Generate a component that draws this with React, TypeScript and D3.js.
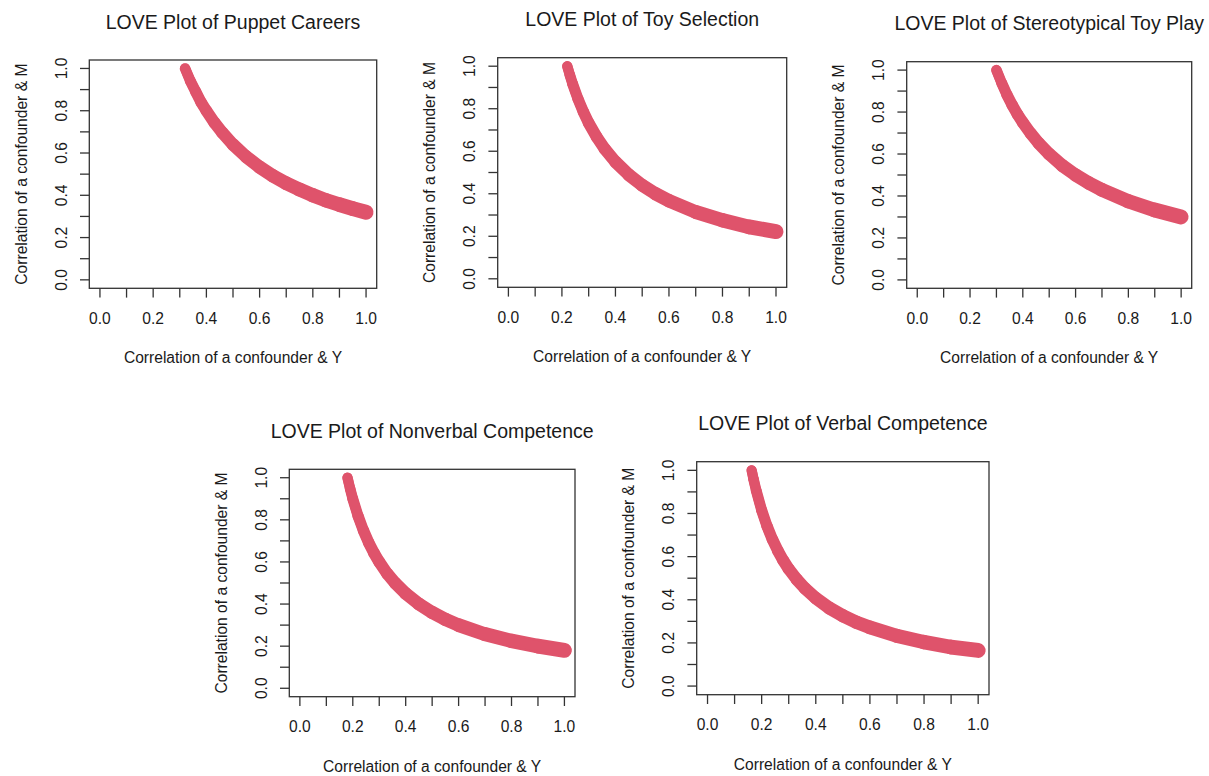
import React from "react";
import * as d3 from "d3";

// ---- Data ----
const titles = [
  "LOVE Plot of Puppet Careers",
  "LOVE Plot of Toy Selection",
  "LOVE Plot of Stereotypical Toy Play",
  "LOVE Plot of Nonverbal Competence",
  "LOVE Plot of Verbal Competence",
];

const puppetX = [0.32, 0.34, 0.36, 0.38, 0.40, 0.43, 0.46, 0.50, 0.55, 0.60, 0.65, 0.70, 0.75, 0.80, 0.85, 0.90, 0.95, 1.00];
const puppetY = [1.00, 0.94, 0.89, 0.84, 0.80, 0.744, 0.696, 0.64, 0.582, 0.533, 0.492, 0.457, 0.427, 0.40, 0.376, 0.356, 0.337, 0.32];

const toyX = [0.22, 0.23, 0.24, 0.26, 0.28, 0.30, 0.33, 0.36, 0.40, 0.45, 0.50, 0.55, 0.60, 0.70, 0.80, 0.90, 1.00];
const toyY = [1.00, 0.957, 0.917, 0.846, 0.786, 0.733, 0.667, 0.611, 0.55, 0.489, 0.44, 0.40, 0.367, 0.314, 0.275, 0.244, 0.222];

const stereoX = [0.30, 0.32, 0.34, 0.36, 0.38, 0.40, 0.43, 0.46, 0.50, 0.55, 0.60, 0.65, 0.70, 0.80, 0.90, 1.00];
const stereoY = [1.00, 0.938, 0.882, 0.833, 0.789, 0.75, 0.698, 0.652, 0.60, 0.545, 0.50, 0.462, 0.429, 0.375, 0.333, 0.30];

const nonverbalX = [0.18, 0.19, 0.20, 0.22, 0.24, 0.26, 0.28, 0.30, 0.33, 0.36, 0.40, 0.45, 0.50, 0.55, 0.60, 0.70, 0.80, 0.90, 1.00];
const nonverbalY = [1.00, 0.947, 0.90, 0.818, 0.75, 0.692, 0.643, 0.60, 0.545, 0.50, 0.45, 0.40, 0.36, 0.327, 0.30, 0.257, 0.225, 0.20, 0.18];

const verbalX = [0.163, 0.17, 0.18, 0.20, 0.22, 0.24, 0.26, 0.28, 0.30, 0.33, 0.36, 0.40, 0.45, 0.50, 0.55, 0.60, 0.70, 0.80, 0.90, 1.00];
const verbalY = [1.00, 0.959, 0.906, 0.815, 0.741, 0.679, 0.627, 0.582, 0.543, 0.494, 0.453, 0.408, 0.362, 0.326, 0.296, 0.272, 0.233, 0.204, 0.181, 0.165];

const tickValues = [0, 0.1, 0.2, 0.3, 0.4, 0.5, 0.6, 0.7, 0.8, 0.9, 1.0];
const tickLabels = ["0.0", "", "0.2", "", "0.4", "", "0.6", "", "0.8", "", "1.0"];

const xTitle = "Correlation of a confounder & Y";
const yTitle = "Correlation of a confounder & M";

// ---- Layout (plot boxes in pixels) ----
const boxes = [
  { l: 89.3, r: 376.7, t: 60, b: 288.3 },
  { l: 497.7, r: 786.7, t: 57.7, b: 287.3 },
  { l: 906.7, r: 1191.7, t: 61.7, b: 288.3 },
  { l: 289.3, r: 575, t: 469.3, b: 696.7 },
  { l: 696.7, r: 989, t: 461.7, b: 694.7 },
];

const seriesX = [puppetX, toyX, stereoX, nonverbalX, verbalX];
const seriesY = [puppetY, toyY, stereoY, nonverbalY, verbalY];

const FONT = "'Liberation Sans', Arial, Helvetica, sans-serif";
const INK = "#1a1a1a";
const POINT = "#DF536B";

function Panel({ i }: { i: number }) {
  const box = boxes[i];
  const x = d3.scaleLinear().domain([-0.04, 1.04]).range([box.l, box.r]);
  const y = d3.scaleLinear().domain([-0.04, 1.04]).range([box.b, box.t]);
  const xs = seriesX[i];
  const ys = seriesY[i];
  const x0 = xs[0];
  const cx = (box.l + box.r) / 2;
  const cy = (box.t + box.b) / 2;
  const tl = 9.3;

  const segs = [];
  for (let k = 0; k < xs.length - 1; k++) {
    const tMid = ((xs[k] + xs[k + 1]) / 2 - x0) / (1 - x0);
    const w = 10 + 5 * Math.sqrt(tMid);
    segs.push(
      <line
        key={k}
        x1={x(xs[k])}
        y1={y(ys[k])}
        x2={x(xs[k + 1])}
        y2={y(ys[k + 1])}
        stroke={POINT}
        strokeWidth={w}
        strokeLinecap="round"
      />
    );
  }
  const pathD = d3
    .line<number>()
    .x((_, k) => x(xs[k]))
    .y((_, k) => y(ys[k]))
    .curve(d3.curveMonotoneX)(xs) as string;

  return (
    <g>
      <text x={cx} y={box.t - 38.5} textAnchor="middle" dominantBaseline="central" fontSize={19.5} fill={INK} fontFamily={FONT}>
        {titles[i]}
      </text>
      <g>{segs}</g>
      <path d={pathD} fill="none" stroke={POINT} strokeWidth={10} strokeLinecap="round" />
      <rect x={box.l} y={box.t} width={box.r - box.l} height={box.b - box.t} fill="none" stroke="#333" strokeWidth={1.3} />
      {tickValues.map((v, k) => (
        <g key={"x" + k}>
          <line x1={x(v)} x2={x(v)} y1={box.b} y2={box.b + tl} stroke="#333" strokeWidth={1.3} />
          {tickLabels[k] && (
            <text x={x(v)} y={box.b + 30} textAnchor="middle" dominantBaseline="central" fontSize={15.6} fill={INK} fontFamily={FONT}>
              {tickLabels[k]}
            </text>
          )}
        </g>
      ))}
      {tickValues.map((v, k) => (
        <g key={"y" + k}>
          <line x1={box.l - tl} x2={box.l} y1={y(v)} y2={y(v)} stroke="#333" strokeWidth={1.3} />
          {tickLabels[k] && (
            <text
              transform={`translate(${box.l - 28},${y(v)}) rotate(-90)`}
              textAnchor="middle"
              dominantBaseline="central"
              fontSize={15.6}
              fill={INK}
              fontFamily={FONT}
            >
              {tickLabels[k]}
            </text>
          )}
        </g>
      ))}
      <text x={cx} y={box.b + 69.5} textAnchor="middle" dominantBaseline="central" fontSize={15.6} fill={INK} fontFamily={FONT}>
        {xTitle}
      </text>
      <text
        transform={`translate(${box.l - 68},${cy}) rotate(-90)`}
        textAnchor="middle"
        dominantBaseline="central"
        fontSize={15.6}
        fill={INK}
        fontFamily={FONT}
      >
        {yTitle}
      </text>
    </g>
  );
}

export default function App() {
  return (
    <svg
      width={1209}
      height={776}
      viewBox="0 0 1209 776"
      style={{ position: "absolute", left: 0, top: 0, background: "#fff", display: "block" }}
    >
      <rect x={0} y={0} width={1209} height={776} fill="#fff" />
      {boxes.map((_, i) => (
        <Panel key={i} i={i} />
      ))}
    </svg>
  );
}
